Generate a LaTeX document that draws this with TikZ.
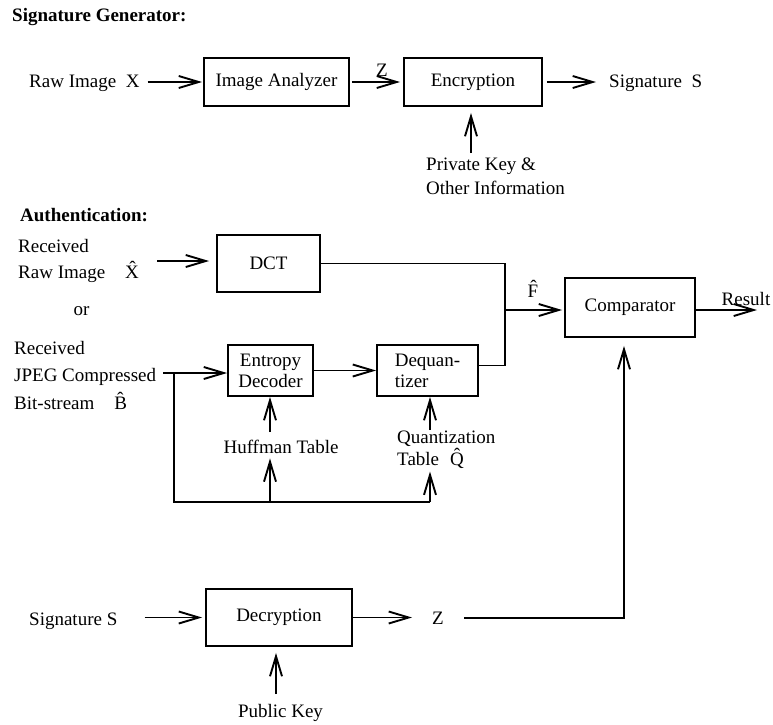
\documentclass[tikz,border=0pt]{standalone}
\usepackage{fontspec}
\setmainfont{Liberation Serif}
\usetikzlibrary{arrows.meta}

\newcommand{\figfont}{\fontsize{19}{21}\selectfont}

\tikzset{
  blk/.style={draw, line width=1.9pt, inner sep=0pt, align=center},
  lbl/.style={inner sep=0pt},
  wire/.style={line width=1.9pt},
  arr/.style={wire, -{Straight Barb[length=20pt, width=12pt, line width=1.9pt]}}
}

\begin{document}
\begin{tikzpicture}[x=1pt, y=-1pt, font=\figfont]
\useasboundingbox (0,0) rectangle (773,724);

\node[lbl, anchor=base west, font=\figfont\bfseries] (gentitle) at (12,21) {Signature Generator:};
\node[lbl, anchor=base west] (rawx) at (29,87) {Raw Image\ \ X};
\node[blk, minimum width=145pt, minimum height=48pt] (ana) at (276.5,82) {Image Analyzer};
\node[blk, minimum width=138pt, minimum height=48pt] (enc) at (473,82) {Encryption};
\node[lbl, anchor=base] (zt) at (382,76) {Z};
\node[lbl, anchor=base west] (sigt) at (609,87) {Signature\ \ S};
\node[lbl, anchor=west, align=left, font=\fontsize{19}{24}\selectfont] (pk) at (426,176) {Private Key \&\\Other Information};
\coordinate (pkin) at (471,153);

\draw[arr, shorten <=8pt, shorten >=1pt] (rawx.east |- ana.west) -- (ana.west);
\draw[arr, shorten <=2pt, shorten >=3pt] (ana.east) -- (enc.west);
\draw[arr, shorten <=4pt, shorten >=13pt] (enc.east) -- (sigt.west |- enc.east);
\draw[arr, shorten >=6pt] (pkin) -- (pkin |- enc.south);

\node[lbl, anchor=base west, font=\figfont\bfseries] (authtitle) at (20,221) {Authentication:};
\node[lbl, anchor=west, align=left, font=\fontsize{19}{26}\selectfont] (rawin) at (18,261) {Received\\Raw Image\hspace{20pt}\^X};
\node[blk, minimum width=103pt, minimum height=57pt] (dct) at (268.5,263.5) {DCT};
\node[lbl, anchor=base] (orlbl) at (81.5,315) {or};
\node[lbl, anchor=west, align=left, font=\fontsize{19}{27.5}\selectfont] (jpeg) at (14,375) {Received\\JPEG Compressed\\Bit-stream\hspace{20pt}\^B};
\node[blk, minimum width=85pt, minimum height=51pt] (ent) at (270.5,370.5) {Entropy\\Decoder};
\node[blk, minimum width=101pt, minimum height=51pt, align=left] (deq) at (427.5,370.5) {Dequan-\\tizer};
\node[lbl, anchor=base] (huff) at (281,453) {Huffman Table};
\node[lbl, anchor=west, align=left, font=\fontsize{19}{22}\selectfont] (quant) at (397,449.5) {Quantization\\Table\hspace{11pt}\^Q};
\node[blk, minimum width=130pt, minimum height=59pt] (cmp) at (630,307.5) {Comparator};
\node[lbl, anchor=base] (fhat) at (533,297) {\^F};
\node[lbl, anchor=base] (res) at (746,305) {Result};

\coordinate (split) at (174,373);
\coordinate (lpa) at (174,502);
\coordinate (lpb) at (430,502);
\coordinate (hin) at (270,432);
\coordinate (qin) at (430,430);
\coordinate (jn) at (505,310);
\coordinate (resout) at (757,310);

\draw[arr, shorten <=18pt, shorten >=7pt] (rawin.east) -- (rawin.east -| dct.west);
\draw[arr, shorten <=7pt] (jpeg.east |- split) -- (split -| ent.west);
\draw[arr] (ent.east) -- (deq.west);
\draw[arr] (hin) -- (hin |- ent.south);
\draw[arr] (qin) -- (qin |- deq.south);
\draw[wire] (split) -- (lpa) -- (lpb);
\draw[arr, shorten >=5pt] (lpa -| hin) -- (hin |- huff.south);
\draw[arr, shorten >=3pt] (lpb) -- (lpb |- quant.south);
\draw[wire] (dct.east) -| (jn) |- ([yshift=5pt]deq.east);
\draw[arr, shorten >=2pt] (jn) -- (jn -| cmp.west);
\draw[arr] (cmp.east |- resout) -- (resout);

\node[lbl, anchor=base west] (sigin) at (29,625) {Signature S};
\node[blk, minimum width=146pt, minimum height=57pt] (dec) at (279,617.5) {Decryption};
\node[lbl, anchor=base] (zout) at (438,624) {Z};
\node[lbl, anchor=base] (pub) at (280.5,717) {Public Key};
\coordinate (zc) at (624,618);
\coordinate (pin) at (276,694);

\draw[arr, shorten <=27pt, shorten >=3pt] (sigin.east |- dec.west) -- (dec.west);
\draw[arr, shorten >=20pt] (dec.east) -- (zout.west |- dec.east);
\draw[arr, shorten <=20pt, shorten >=8pt] (zout.east |- zc) -- (zc) -- (zc |- cmp.south);
\draw[arr, shorten >=6pt] (pin) -- (pin |- dec.south);
\end{tikzpicture}
\end{document}
